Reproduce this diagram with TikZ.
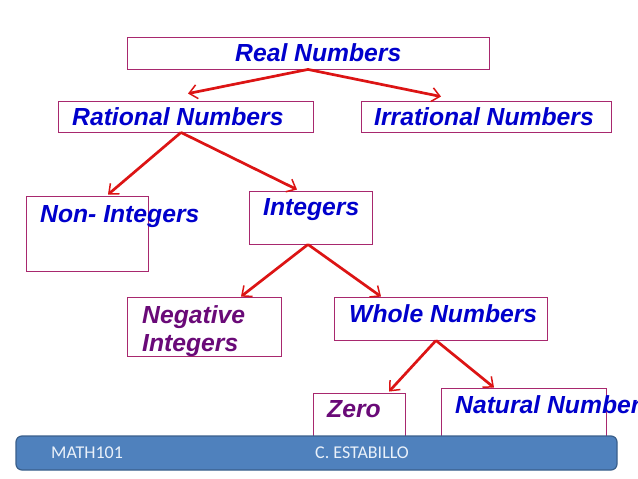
\documentclass[tikz,border=0pt]{standalone}
\usepackage{fontspec}
\setmainfont{Liberation Sans}
\newfontfamily\footfont{Carlito}
\usetikzlibrary{arrows.meta}
\definecolor{boxline}{HTML}{A8286E}
\definecolor{txtblue}{HTML}{0000CC}
\definecolor{txtpurple}{HTML}{6A0A78}
\definecolor{arrred}{HTML}{DC1414}
\definecolor{barfill}{HTML}{4F81BD}
\definecolor{barline}{HTML}{3A5F8B}
\definecolor{bartext}{HTML}{EAF1FA}
\tikzset{
  x=1pt,y=-1pt,
  boxnode/.style={draw=boxline,line width=0.9pt,inner sep=0pt,fill=white},
  lab/.style={anchor=base west,inner sep=0pt,font=\fontsize{24.7}{28}\selectfont\bfseries\itshape,text=txtblue},
  labp/.style={lab,text=txtpurple},
  arr/.style={draw=arrred,line width=2.7pt,-{Straight Barb[length=8pt,width=14pt,line width=1.5pt]}},
  foot/.style={anchor=base west,inner sep=0pt,font=\footfont\fontsize{18}{20}\selectfont,text=bartext},
}
\newcommand{\bx}[5]{\node[boxnode,minimum width=#4-#2,minimum height=#5-#3] (#1) at ({(#2+#4)/2},{(#3+#5)/2}) {};}
\begin{document}
\begin{tikzpicture}
\useasboundingbox (0,0) rectangle (638,479);
\fill[white] (0,0) rectangle (638,479);
\bx{real}{127}{37}{489}{69}
\bx{rat}{58}{101}{313}{132}
\bx{irr}{361}{101}{611}{132}
\bx{non}{26}{196}{148}{271}
\bx{int}{249}{191}{372}{244}
\bx{neg}{127}{297}{281}{356}
\bx{whole}{334}{297}{547}{340}
\bx{zero}{313}{393}{405}{445}
\bx{nat}{441}{388}{606}{445}
\node[lab] (treal) at (235,61) {Real Numbers};
\node[lab] (trat) at (72,125) {Rational Numbers};
\node[lab] (tirr) at (374,125) {Irrational Numbers};
\node[lab] (tnon) at (40,222) {Non- Integers};
\node[lab] (tint) at (263,215) {Integers};
\node[labp] (tneg1) at (142,323) {Negative};
\node[labp] (tneg2) at (142,351) {Integers};
\node[lab] (twhole) at (349,322) {Whole Numbers};
\node[labp] (tzero) at (327,417) {Zero};
\node[lab] (tnat) at (455,413) {Natural Number};
\draw[arr] (real.south) -- ([xshift=2.5pt,yshift=7pt]rat.north);
\draw[arr] (real.south) -- ([xshift=-45pt,yshift=4pt]irr.north);
\draw[arr] ([xshift=-4.5pt]rat.south) -- ([xshift=21pt,yshift=1pt]non.north);
\draw[arr] ([xshift=-4.5pt]rat.south) -- ([xshift=-13.5pt,yshift=1pt]int.north);
\draw[arr] ([xshift=-2.5pt]int.south) -- ([xshift=37pt]neg.north);
\draw[arr] ([xshift=-2.5pt]int.south) -- ([xshift=-59.5pt]whole.north);
\draw[arr] ([xshift=-4.5pt]whole.south) -- ([xshift=30pt,yshift=1pt]zero.north);
\draw[arr] ([xshift=-4.5pt]whole.south) -- ([xshift=-29.5pt]nat.north);
\node[draw=barline,line width=1.2pt,fill=barfill,rounded corners=6pt,minimum width=601pt,minimum height=34pt,inner sep=0pt] (bar) at (316.5,453) {};
\node[foot] (tm) at (51,458) {MATH101};
\node[foot] (tc) at (315,458) {C. ESTABILLO};
\end{tikzpicture}
\end{document}
